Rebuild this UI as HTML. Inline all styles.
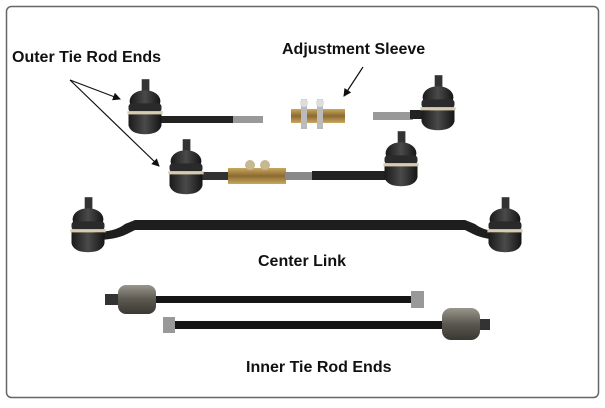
<!DOCTYPE html>
<html><head><style>
html,body{margin:0;padding:0;background:#fff;}
body{width:605px;height:403px;overflow:hidden;}
text{font-family:"Liberation Sans",sans-serif;font-weight:bold;fill:#111;}
</style></head><body>
<svg width="605" height="403" viewBox="0 0 605 403" xmlns="http://www.w3.org/2000/svg">
<defs>
<linearGradient id="ball" x1="0" x2="1"><stop offset="0" stop-color="#1a1a1a"/><stop offset=".5" stop-color="#4a4a4a"/><stop offset="1" stop-color="#151515"/></linearGradient>
<linearGradient id="gold" x1="0" y1="0" x2="0" y2="1"><stop offset="0" stop-color="#c9a860"/><stop offset=".5" stop-color="#8a6a30"/><stop offset="1" stop-color="#c9a860"/></linearGradient>
<linearGradient id="gray" x1="0" y1="0" x2="0" y2="1"><stop offset="0" stop-color="#9a968c"/><stop offset=".5" stop-color="#5b5850"/><stop offset="1" stop-color="#3a3833"/></linearGradient>
<marker id="ah" markerWidth="8" markerHeight="8" refX="7" refY="4" orient="auto" markerUnits="userSpaceOnUse"><path d="M0,0 L8,4 L0,8 z" fill="#111"/></marker>
<g id="bj0">
<rect x="-3" y="-28" width="7" height="14" fill="#333"/>
<ellipse cx="0" cy="-8" rx="14" ry="10" fill="url(#ball)"/>
<rect x="-15" y="-6" width="30" height="8" rx="3" fill="#2a2a2a"/>
<rect x="-16" y="1" width="32" height="3" fill="#d8ccb0"/>
<path d="M-15,4 h30 v10 q-2,8 -15,8 q-13,0 -15,-8z" fill="url(#ball)"/>
</g>
<g id="bj"><use href="#bj0" transform="scale(1.1)"/></g>
</defs>
<rect x="6.5" y="6.5" width="592" height="391" rx="5" fill="#fff" stroke="#666" stroke-width="1.5"/>

<text x="12" y="62" font-size="16">Outer Tie Rod Ends</text>
<text x="282" y="54" font-size="16">Adjustment Sleeve</text>
<text x="258" y="266" font-size="16">Center Link</text>
<text x="246" y="372" font-size="16">Inner Tie Rod Ends</text>

<line x1="70" y1="80" x2="120" y2="99" stroke="#111" stroke-width="1.2" marker-end="url(#ah)"/>
<line x1="70" y1="80" x2="159" y2="166" stroke="#111" stroke-width="1.2" marker-end="url(#ah)"/>
<line x1="363" y1="67" x2="344" y2="96" stroke="#111" stroke-width="1.2" marker-end="url(#ah)"/>

<rect x="150" y="116" width="84" height="7" fill="#222"/>
<rect x="233" y="116" width="30" height="7" fill="#999"/>
<use href="#bj" x="145" y="110"/>
<rect x="291" y="109" width="54" height="14" fill="url(#gold)"/>
<rect x="301" y="99" width="6" height="30" fill="#bbb"/>
<rect x="317" y="99" width="6" height="30" fill="#bbb"/>
<circle cx="304" cy="103" r="4" fill="#ddd"/><circle cx="320" cy="103" r="4" fill="#ddd"/>
<rect x="373" y="112" width="40" height="8" fill="#999"/>
<rect x="410" y="110" width="20" height="9" fill="#222"/>
<use href="#bj" x="438" y="106"/>

<rect x="200" y="172" width="30" height="8" fill="#333"/>
<rect x="228" y="168" width="58" height="16" fill="url(#gold)"/>
<circle cx="250" cy="165" r="5" fill="#c8b890"/><circle cx="265" cy="165" r="5" fill="#c8b890"/>
<rect x="285" y="172" width="28" height="8" fill="#888"/>
<rect x="312" y="171" width="80" height="9" fill="#222"/>
<use href="#bj" x="186" y="170"/>
<use href="#bj" x="401" y="162"/>

<path d="M95,232 q20,0 30,-8 L135,220 L465,220 L475,224 q10,8 30,8 L505,240 q-20,0 -32,-6 L465,230 L135,230 L127,234 q-12,6 -32,6z" fill="#1e1e1e"/>
<use href="#bj" x="88" y="228"/>
<use href="#bj" x="505" y="228"/>

<rect x="150" y="296" width="262" height="7" fill="#151515"/>
<rect x="411" y="291" width="13" height="17" fill="#999"/>
<rect x="105" y="294" width="14" height="11" fill="#333"/>
<rect x="118" y="285" width="38" height="29" rx="8" fill="url(#gray)"/>
<rect x="172" y="321" width="274" height="8" fill="#151515"/>
<rect x="163" y="317" width="12" height="16" fill="#999"/>
<rect x="478" y="319" width="12" height="11" fill="#333"/>
<rect x="442" y="308" width="38" height="32" rx="9" fill="url(#gray)"/>
</svg>
</body></html>
